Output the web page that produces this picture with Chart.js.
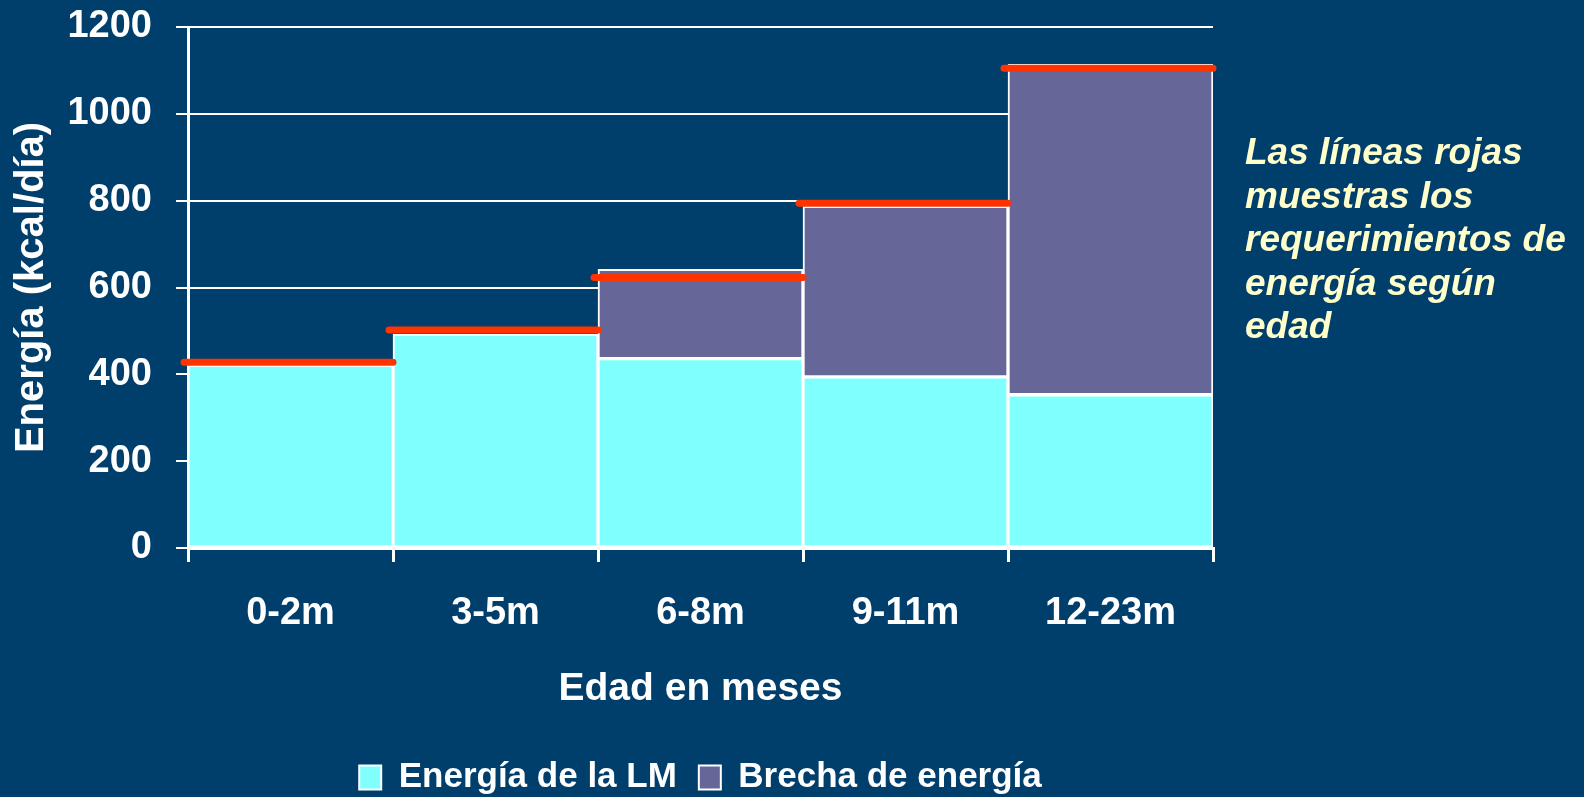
<!DOCTYPE html>
<html>
<head>
<meta charset="utf-8">
<script src="https://cdn.jsdelivr.net/npm/chart.js@4/dist/chart.umd.min.js"></script>
<style>
  html, body { margin: 0; padding: 0; background: #003E6B; }
  #wrap { position: relative; width: 1584px; height: 797px; }
  #nota {
    position: absolute; left: 1245px; top: 130px;
    font: italic bold 37px/43.5px "Liberation Sans", Arial, sans-serif;
    color: #FFFFCC; margin: 0;
  }
</style>
</head>
<body>
<div id="wrap">
  <canvas id="energiaChart"></canvas>
  <p id="nota">Las líneas rojas<br>muestras los<br>requerimientos de<br>energía según<br>edad</p>
</div>
<script>
// data
const edades = ["0-2m", "3-5m", "6-8m", "9-11m", "12-23m"];
const energiaLM = [421, 493, 436, 394, 353];
const brechaEnergia = [0, 0, 206, 393, 761];
const requerimiento = [428, 502, 623, 794, 1105];
const ticksY = [0, 200, 400, 600, 800, 1000, 1200];

const sans = "'Liberation Sans', Arial, sans-serif";

// red requirement lines, one per age group
const requerimientoPlugin = {
    id: "requerimiento",
    afterDatasetsDraw(chart) {
        let ctx = chart.ctx;
        let x = chart.scales.x;
        let y = chart.scales.y;
        let w = x.getPixelForValue(1) - x.getPixelForValue(0);
        ctx.save();
        ctx.strokeStyle = "#FF3300";
        ctx.lineWidth = 7;
        ctx.lineCap = "round";
        requerimiento.forEach((v, i) => {
            let cx = x.getPixelForValue(i);
            let py = y.getPixelForValue(v);
            ctx.beginPath();
            ctx.moveTo(cx - w / 2 - 4, py);
            ctx.lineTo(cx + w / 2, py);
            ctx.stroke();
        });
        ctx.restore();
    }
};

let ctx = document.getElementById("energiaChart").getContext("2d");
let energiaChart = new Chart(ctx, {
    type: "bar",
    data: {
        labels: edades,
        datasets: [{
            label: "Energía de la LM",
            data: energiaLM,
            backgroundColor: "#80FFFF",
            borderColor: "#FFFFFF",
            borderWidth: 2,
            borderSkipped: false
        }, {
            label: "Brecha de energía",
            data: brechaEnergia,
            backgroundColor: "#666699",
            borderColor: "#FFFFFF",
            borderWidth: 2,
            borderSkipped: false
        }]
    },
    plugins: [requerimientoPlugin],
    options: {
        responsive: true,
        maintainAspectRatio: false,
        animation: false,
        barPercentage: 1,
        categoryPercentage: 1,
        layout: { padding: { top: 27, right: 371, bottom: -8, left: 0 } },
        scales: {
            x: {
                stacked: true,
                grid: { drawOnChartArea: false, color: "#FFFFFF", lineWidth: 3, tickLength: 14 },
                border: { color: "#FFFFFF", width: 3 },
                ticks: { color: "#FFFFFF", font: { family: sans, size: 38, weight: "bold" }, padding: 29, maxRotation: 0 },
                title: {
                    display: true,
                    text: "Edad en meses",
                    color: "#FFFFFF",
                    font: { family: sans, size: 39, weight: "bold" },
                    padding: { top: 4, bottom: 25 }
                },
                afterFit: (scale) => { scale.height = 190; }
            },
            y: {
                stacked: true,
                min: 0,
                max: 1200,
                afterBuildTicks: (scale) => { scale.ticks = ticksY.map(v => ({ value: v })); },
                grid: { color: "#FFFFFF", lineWidth: 2, tickLength: 12 },
                border: { color: "#FFFFFF", width: 3 },
                ticks: {
                    color: "#FFFFFF",
                    font: { family: sans, size: 38, weight: "bold" },
                    padding: 24,
                    callback: (v) => String(v)
                },
                title: {
                    display: true,
                    text: "Energía (kcal/día)",
                    color: "#FFFFFF",
                    font: { family: sans, size: 40, weight: "bold" },
                    padding: { top: 8, bottom: 0 }
                },
                afterFit: (scale) => {
                    scale.width = 188;
                    scale.paddingTop = 0;
                    scale.paddingBottom = 0;
                }
            }
        },
        plugins: {
            legend: {
                position: "bottom",
                fullSize: false,
                labels: {
                    color: "#FFFFFF",
                    font: { family: sans, size: 35, weight: "bold" },
                    boxWidth: 22,
                    boxHeight: 24,
                    padding: 22
                }
            },
            tooltip: { enabled: false }
        }
    }
});
</script>
</body>
</html>
